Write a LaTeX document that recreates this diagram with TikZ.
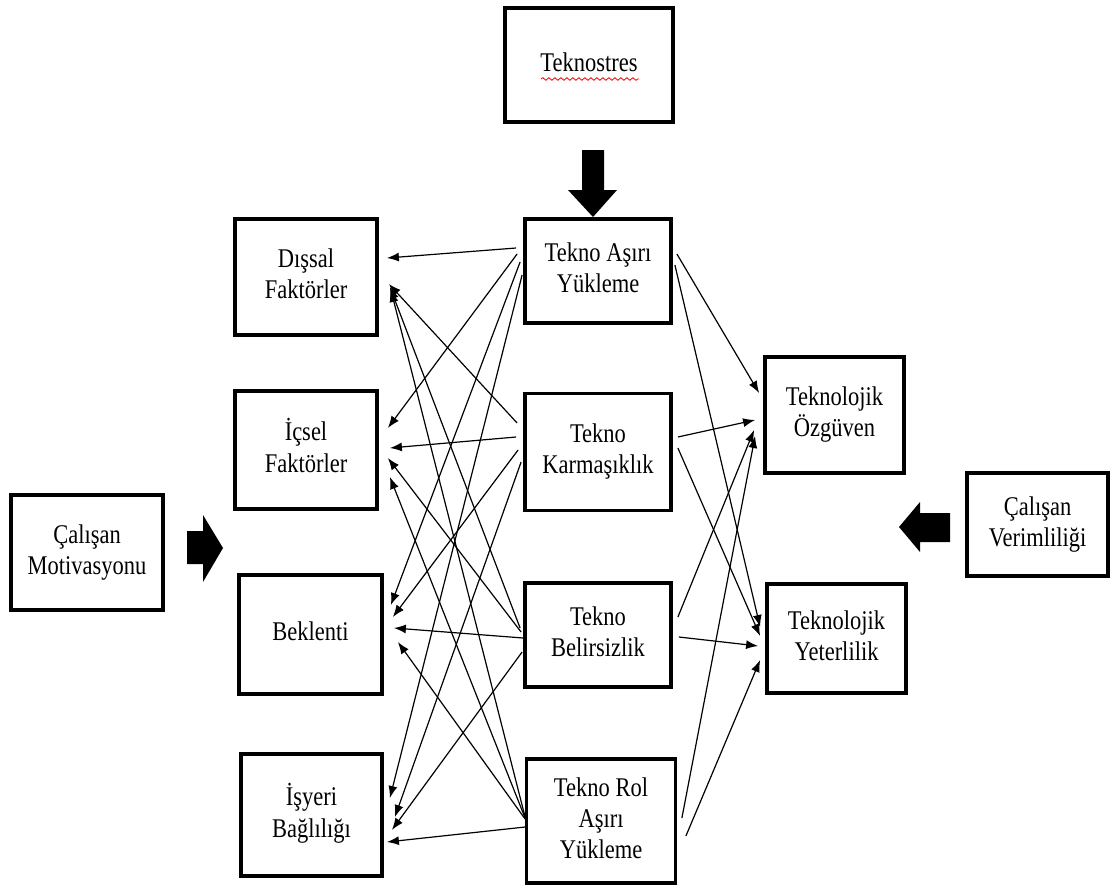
\documentclass[tikz,border=0pt]{standalone}
\usepackage{fontspec}
\usepackage{graphicx}
\setmainfont{Liberation Serif}
\usetikzlibrary{calc,arrows.meta,decorations.pathmorphing}
\newcommand\boxtext[1]{\scalebox{1}[1.2]{\fontsize{22.5}{26}\selectfont\begin{tabular}{@{}c@{}}#1\end{tabular}}}
\begin{document}
\begin{tikzpicture}[x=1pt,y=-1pt,
  box/.style={draw, line width=3.8pt, fill=white, align=center, inner sep=0pt},
  link/.style={line width=1.2pt, -{Latex[length=12pt,width=9pt]}},
  blockarrow/.style={fill=black, draw=none}]
\useasboundingbox (0,0) rectangle (1114,894);

% top
\node[box, minimum width=168pt, minimum height=114pt] (tek) at (589,65) {\boxtext{Teknostres}};
\draw[red, line width=0.8pt, decorate, decoration={snake, segment length=6pt, amplitude=1.3pt}]
  ($(tek.center)+(-48,14)$) -- ($(tek.center)+(50,14)$);

% middle column
\node[box, minimum width=146pt, minimum height=104pt] (tay) at (598,271) {\boxtext{Tekno Aşırı\\Yükleme}};
\node[box, minimum width=146pt, minimum height=117pt] (tk)  at (598,452) {\boxtext{Tekno\\Karmaşıklık}};
\node[box, minimum width=146pt, minimum height=104pt] (tb)  at (598,635) {\boxtext{Tekno\\Belirsizlik}};
\node[box, minimum width=149pt, minimum height=124pt] (tra) at (601,821) {\boxtext{Tekno Rol\\Aşırı\\Yükleme}};

% left column
\node[box, minimum width=142pt, minimum height=116pt] (dis) at (306,277) {\boxtext{Dışsal\\Faktörler}};
\node[box, minimum width=142pt, minimum height=118pt] (ics) at (306,450) {\boxtext{İçsel\\Faktörler}};
\node[box, minimum width=143pt, minimum height=119pt] (bek) at (310.5,634.5) {\boxtext{Beklenti}};
\node[box, minimum width=141pt, minimum height=122pt] (isy) at (311.5,815) {\boxtext{İşyeri\\Bağlılığı}};

% right column
\node[box, minimum width=139pt, minimum height=116pt] (ozg) at (834.5,415) {\boxtext{Teknolojik\\Özgüven}};
\node[box, minimum width=139pt, minimum height=109pt] (yet) at (836.5,638.5) {\boxtext{Teknolojik\\Yeterlilik}};

% outer
\node[box, minimum width=152pt, minimum height=115pt] (mot) at (87,552.5) {\boxtext{Çalışan\\Motivasyonu}};
\node[box, minimum width=141pt, minimum height=103pt] (ver) at (1037.5,524.5) {\boxtext{Çalışan\\Verimliliği}};

% block arrows
\fill[blockarrow] (582,150) -- (604,150) -- (604,190) -- (617,190) -- (593,217) -- (568,190) -- (582,190) -- cycle;
\fill[blockarrow] (187,531) -- (203,531) -- (203,515) -- (223,548) -- (203,582) -- (203,564) -- (187,564) -- cycle;
\fill[blockarrow] (950,513) -- (920,513) -- (920,502) -- (899,527) -- (920,552) -- (920,542) -- (950,542) -- cycle;

% middle -> left
\draw[link] ($(tay.west)+(-7,-23)$) -- ($(dis.east)+(8,-19)$);
\draw[link] ($(tay.west)+(-6,-17)$) -- ($(ics.east)+(9,-22)$);
\draw[link] ($(tay.west)+(-3,-9)$)  -- ($(bek.east)+(7,-29.5)$);
\draw[link] ($(tay.west)+(-1,4)$)   -- ($(isy.east)+(6,-17)$);

\draw[link] ($(tk.west)+(-6,-29)$) -- ($(dis.east)+(10,7)$);
\draw[link] ($(tk.west)+(-7,-15)$) -- ($(ics.east)+(11,-2)$);
\draw[link] ($(tk.west)+(-5,-2)$)  -- ($(bek.east)+(9,-17.5)$);
\draw[link] ($(tk.west)+(-2,10)$)  -- ($(isy.east)+(11,2)$);

\draw[link] ($(tb.west)+(-3,-7)$) -- ($(dis.east)+(11,10)$);
\draw[link] ($(tb.west)+(-2,-3)$) -- ($(ics.east)+(9,8)$);
\draw[link] ($(tb.west)+(0,3)$)   -- ($(bek.east)+(10,-6.5)$);
\draw[link] ($(tb.west)+(-1,17)$) -- ($(isy.east)+(8,15)$);

\draw[link] ($(tra.west)+(0.5,-4)$) -- ($(dis.east)+(12,13)$);
\draw[link] ($(tra.west)+(0.5,-3)$) -- ($(ics.east)+(11,27)$);
\draw[link] ($(tra.west)+(0.5,-2)$) -- ($(bek.east)+(14,7.5)$);
\draw[link] ($(tra.west)+(0.5,6)$)  -- ($(isy.east)+(3,27)$);

% middle -> right
\draw[link] ($(tay.east)+(4,-17)$) -- ($(ozg.west)+(-4,-22)$);
\draw[link] ($(tay.east)+(2,-6)$)  -- ($(yet.west)+(-5,-11.5)$);
\draw[link] ($(tk.east)+(5,-15)$)  -- ($(ozg.west)+(-8,5)$);
\draw[link] ($(tk.east)+(5,-4)$)   -- ($(yet.west)+(-5,-2.5)$);
\draw[link] ($(tb.east)+(5,-18)$)  -- ($(ozg.west)+(-9,15)$);
\draw[link] ($(tb.east)+(6,2)$)    -- ($(yet.west)+(-7,7.5)$);
\draw[link] ($(tra.east)+(4.5,-3)$) -- ($(ozg.west)+(-8,21)$);
\draw[link] ($(tra.east)+(8.5,15)$) -- ($(yet.west)+(-5,21.5)$);
\end{tikzpicture}
\end{document}
